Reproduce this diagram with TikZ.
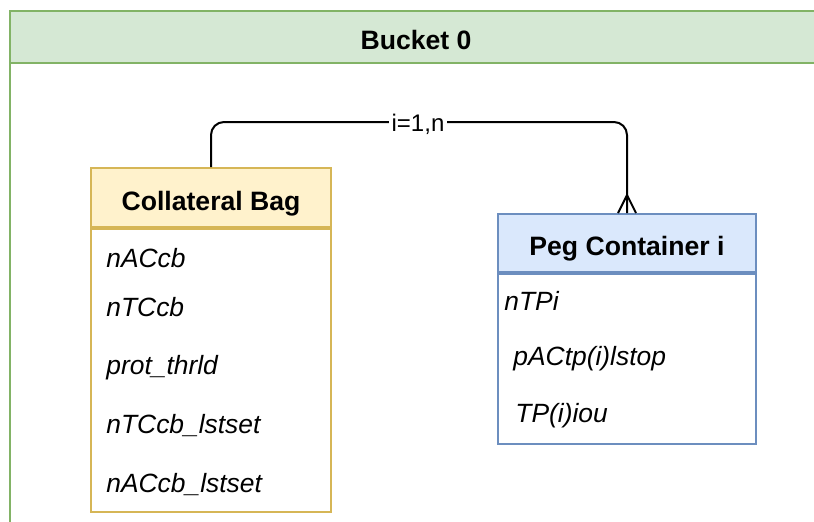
\documentclass[tikz,border=0pt]{standalone}
\usepackage{fontspec}
\setmainfont{Liberation Sans}
\definecolor{greenfill}{HTML}{D5E8D4}
\definecolor{greenline}{HTML}{82B366}
\definecolor{yellowfill}{HTML}{FFF2CC}
\definecolor{yellowline}{HTML}{D6B656}
\definecolor{bluefill}{HTML}{DAE8FC}
\definecolor{blueline}{HTML}{6C8EBF}
\begin{document}
\begin{tikzpicture}[x=0.5pt,y=-0.5pt,
  titletext/.style={font=\bfseries\fontsize{13.3}{16}\selectfont, text height=12.6pt, text depth=0pt, inner sep=0pt},
  attr/.style={font=\itshape\fontsize{13.2}{16}\selectfont, anchor=base west, inner sep=0pt},
  cbhead/.style={titletext, draw=yellowline, fill=yellowfill, line width=1pt, minimum width=120pt, minimum height=29.5pt},
  cbbody/.style={draw=yellowline, fill=white, line width=1pt, minimum width=120pt, minimum height=141.5pt, inner sep=0pt, anchor=north},
  pghead/.style={titletext, draw=blueline, fill=bluefill, line width=1pt, minimum width=129pt, minimum height=29pt},
  pgbody/.style={draw=blueline, fill=white, line width=1pt, minimum width=129pt, minimum height=85pt, inner sep=0pt, anchor=north},
  conn/.style={draw=black, line width=1pt, rounded corners=6.5pt},
  crow/.style={draw=black, line width=1pt},
  lbl/.style={fill=white, font=\fontsize{12}{14}\selectfont, inner sep=1.5pt}
]
\useasboundingbox (0,0) rectangle (814,521);
\clip (0,0) rectangle (814,521);

% Bucket container: header band and open body
\fill[greenfill] (10,11) rectangle (840,63);
\draw[greenline, line width=1pt] (10,560) -- (10,11) -- (840,11);
\draw[greenline, line width=1pt] (10,63) -- (840,63);
\node[titletext] (bucket) at (416,37) {Bucket 0};

% Collateral Bag entity
\node[cbhead] (cb) at (211,197.5) {Collateral Bag};
\node[cbbody] (cbb) at (cb.south) {};
\node[attr] (cb1) at (106,267) {nACcb};
\node[attr] (cb2) at (106,316.5) {nTCcb};
\node[attr] (cb3) at (106,374.5) {prot\_thrld};
\node[attr] (cb4) at (106,433) {nTCcb\_lstset};
\node[attr] (cb5) at (106,492) {nACcb\_lstset};

% Peg Container entity
\node[pghead] (pg) at (627,243) {Peg Container i};
\node[pgbody] (pgb) at (pg.south) {};
\node[attr] (pg1) at (504,310) {nTPi};
\node[attr] (pg2) at (513,365.5) {pACtp(i)lstop};
\node[attr] (pg3) at (515,422.5) {TP(i)iou};

% one-to-many relation
\draw[conn] (cb.north) -- ++(0,-45) -| (pg.north);
\draw[crow] ([xshift=-4.5pt]pg.north) -- ([yshift=9pt]pg.north) -- ([xshift=4.5pt]pg.north);
\node[lbl] (rel) at (418,124) {i=1,n};
\end{tikzpicture}
\end{document}
